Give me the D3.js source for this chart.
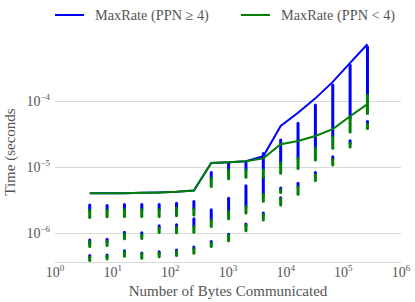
<!DOCTYPE html>
<html>
<head>
<meta charset="utf-8">
<script src="https://cdn.jsdelivr.net/npm/d3@7"></script>
<style>
  body { margin: 0; background: #fff; }
  svg { display: block; }
  text { font-family: "Liberation Serif", "DejaVu Serif", serif; fill: #555; }
</style>
</head>
<body>
<svg id="chart" width="415" height="302"></svg>
<script>
// message sizes (bytes)
const sizes = [4, 8, 16, 32, 64, 128, 256, 512, 1024, 2048, 4096, 8192, 16384, 32768, 65536, 131072, 262144];
const rateHigh = [4.0e-6, 4.0e-6, 4.0e-6, 4.05e-6, 4.1e-6, 4.2e-6, 4.4e-6, 1.15e-5, 1.18e-5, 1.22e-5, 1.45e-5, 4.2e-5, 6.65e-5, 1.1e-4, 1.96e-4, 3.8e-4, 7.3e-4];
const rateLow = [4.0e-6, 4.0e-6, 4.0e-6, 4.05e-6, 4.1e-6, 4.2e-6, 4.4e-6, 1.15e-5, 1.18e-5, 1.22e-5, 1.35e-5, 2.21e-5, 2.48e-5, 2.95e-5, 3.76e-5, 5.9e-5, 9.0e-5];

// measured times, grouped as [size, low, high] clusters
const blueRanges = [
  [4, 2.2e-6, 2.65e-6], [4, 6.8e-7, 7.8e-7], [4, 4.2e-7, 4.5e-7],
  [8, 2.2e-6, 2.6e-6], [8, 7.3e-7, 8.0e-7], [8, 4.4e-7, 4.6e-7],
  [16, 2.25e-6, 2.7e-6], [16, 9.5e-7, 1.02e-6], [16, 5.1e-7, 5.35e-7],
  [32, 2.25e-6, 2.7e-6], [32, 9.3e-7, 1.0e-6], [32, 4.8e-7, 4.95e-7],
  [64, 2.25e-6, 2.7e-6], [64, 1.18e-6, 1.28e-6], [64, 4.9e-7, 5.15e-7],
  [128, 2.37e-6, 2.82e-6], [128, 1.2e-6, 1.33e-6], [128, 5.2e-7, 5.5e-7],
  [256, 2.3e-6, 2.98e-6], [256, 1.25e-6, 1.63e-6], [256, 5.7e-7, 6.07e-7],
  [512, 6.75e-6, 8.2e-6], [512, 1.57e-6, 2.23e-6], [512, 7.0e-7, 7.4e-7],
  [1024, 9.0e-6, 1.14e-5], [1024, 2.1e-6, 3.36e-6], [1024, 9.1e-7, 9.5e-7],
  [2048, 9.0e-6, 1.2e-5], [2048, 2.5e-6, 5.2e-6], [2048, 1.3e-6, 1.36e-6],
  [4096, 9.0e-6, 1.6e-5], [4096, 3.8e-6, 7.0e-6], [4096, 1.9e-6, 2.0e-6],
  [8192, 1.15e-5, 2.57e-5], [8192, 4.5e-6, 4.8e-6], [8192, 3.3e-6, 3.4e-6],
  [16384, 1.35e-5, 4.6e-5], [16384, 5.0e-6, 5.66e-6],
  [32768, 1.92e-5, 8.7e-5], [32768, 7.6e-6, 8.2e-6],
  [65536, 2.88e-5, 1.75e-4], [65536, 1.3e-5, 1.43e-5],
  [131072, 5.5e-5, 3.5e-4], [131072, 2.3e-5, 2.5e-5],
  [262144, 1.23e-4, 6.65e-4], [262144, 4.5e-5, 4.9e-5]
];
const greenRanges = [
  [4, 1.71e-6, 2.2e-6], [4, 6.2e-7, 7.3e-7], [4, 3.8e-7, 4.3e-7],
  [8, 1.75e-6, 2.2e-6], [8, 6.4e-7, 7.4e-7], [8, 4.0e-7, 4.4e-7],
  [16, 1.77e-6, 2.25e-6], [16, 8.1e-7, 9.5e-7], [16, 4.4e-7, 5.1e-7],
  [32, 1.77e-6, 2.25e-6], [32, 8.2e-7, 9.3e-7], [32, 4.1e-7, 4.8e-7],
  [64, 1.77e-6, 2.25e-6], [64, 1.01e-6, 1.18e-6], [64, 4.33e-7, 4.9e-7],
  [128, 1.81e-6, 2.37e-6], [128, 1.0e-6, 1.2e-6], [128, 4.5e-7, 5.2e-7],
  [256, 1.87e-6, 2.3e-6], [256, 1.02e-6, 1.25e-6], [256, 4.9e-7, 5.7e-7],
  [512, 5.03e-6, 6.75e-6], [512, 1.25e-6, 1.57e-6], [512, 6.2e-7, 7.0e-7],
  [1024, 6.6e-6, 9.0e-6], [1024, 1.63e-6, 2.1e-6], [1024, 7.6e-7, 9.1e-7],
  [2048, 7.0e-6, 9.0e-6], [2048, 2.0e-6, 2.5e-6], [2048, 1.07e-6, 1.3e-6],
  [4096, 7.0e-6, 9.0e-6], [4096, 3.0e-6, 3.8e-6], [4096, 1.57e-6, 1.9e-6],
  [8192, 8.0e-6, 1.15e-5], [8192, 4.1e-6, 4.5e-6], [8192, 2.65e-6, 3.3e-6],
  [16384, 9.5e-6, 1.35e-5], [16384, 3.85e-6, 5.0e-6],
  [32768, 1.28e-5, 1.92e-5], [32768, 6.2e-6, 7.6e-6],
  [65536, 1.92e-5, 2.88e-5], [65536, 1.07e-5, 1.3e-5],
  [131072, 3.4e-5, 5.5e-5], [131072, 2.0e-5, 2.3e-5],
  [262144, 6.5e-5, 1.23e-4], [262144, 3.85e-5, 4.5e-5]
];

const xTickExps = [0, 1, 2, 3, 4, 5, 6];
const yTickExps = [-6, -5, -4];
const legendLabels = ["MaxRate (PPN \u2265 4)", "MaxRate (PPN < 4)"];
const colors = ["#0000ff", "#008000"];

const svg = d3.select("#chart");
const plot = { left: 55, right: 401, top: 42, bottom: 262 };

const x = d3.scaleLog().domain([1, 1e6]).range([plot.left, plot.right]);
const y = d3.scaleLog().domain([3.6e-7, 7.9e-4]).range([plot.bottom, plot.top]);

// horizontal grid + bottom spine
svg.append("g").selectAll("line")
  .data(yTickExps.map(e => Math.pow(10, e)))
  .join("line")
  .attr("x1", plot.left).attr("x2", plot.right)
  .attr("y1", d => Math.round(y(d)) + 0.5).attr("y2", d => Math.round(y(d)) + 0.5)
  .attr("stroke", "#d9d9d9").attr("stroke-width", 1);

svg.append("line")
  .attr("x1", plot.left).attr("x2", plot.right)
  .attr("y1", plot.bottom + 0.5).attr("y2", plot.bottom + 0.5)
  .attr("stroke", "#d9d9d9");

// tick labels
const xLab = svg.append("g").selectAll("text")
  .data(xTickExps)
  .join("text")
  .attr("x", d => x(Math.pow(10, d)))
  .attr("y", 277)
  .attr("text-anchor", "middle")
  .attr("font-size", 14);
xLab.append("tspan").text("10");
xLab.append("tspan").attr("dy", -6).attr("font-size", 9).text(d => d);

const yLab = svg.append("g").selectAll("text")
  .data(yTickExps)
  .join("text")
  .attr("x", 50)
  .attr("y", d => y(Math.pow(10, d)) + 5)
  .attr("text-anchor", "end")
  .attr("font-size", 14);
yLab.append("tspan").text("10");
yLab.append("tspan").attr("dy", -6).attr("font-size", 9).text(d => "\u2212" + Math.abs(d));

// axis titles
svg.append("text")
  .attr("x", (plot.left + plot.right) / 2)
  .attr("y", 296)
  .attr("text-anchor", "middle")
  .attr("font-size", 15)
  .text("Number of Bytes Communicated");

svg.append("text")
  .attr("transform", `translate(15, 152) rotate(-90)`)
  .attr("text-anchor", "middle")
  .attr("font-size", 15)
  .text("Time (seconds");

// scatter clusters
const drawRanges = (data, color) => {
  svg.append("g").selectAll("line")
    .data(data)
    .join("line")
    .attr("x1", d => x(d[0])).attr("x2", d => x(d[0]))
    .attr("y1", d => y(d[1])).attr("y2", d => y(d[2]))
    .attr("stroke", color)
    .attr("stroke-width", 3)
    .attr("stroke-linecap", "round");
};
drawRanges(blueRanges, colors[0]);
drawRanges(greenRanges, colors[1]);

// max-rate lines
const line = d3.line()
  .x(d => x(d[0]))
  .y(d => y(d[1]));

[rateHigh, rateLow].forEach((vals, i) => {
  svg.append("path")
    .datum(sizes.map((s, j) => [s, vals[j]]))
    .attr("fill", "none")
    .attr("stroke", colors[i])
    .attr("stroke-width", 2)
    .attr("d", line);
});

// legend
const legendX = [55, 241];
legendLabels.forEach((lbl, i) => {
  svg.append("line")
    .attr("x1", legendX[i]).attr("x2", legendX[i] + 29)
    .attr("y1", 15).attr("y2", 15)
    .attr("stroke", colors[i]).attr("stroke-width", 2);
  svg.append("text")
    .attr("x", legendX[i] + 40)
    .attr("y", 20)
    .attr("font-size", 14.3)
    .text(lbl);
});
</script>
</body>
</html>
